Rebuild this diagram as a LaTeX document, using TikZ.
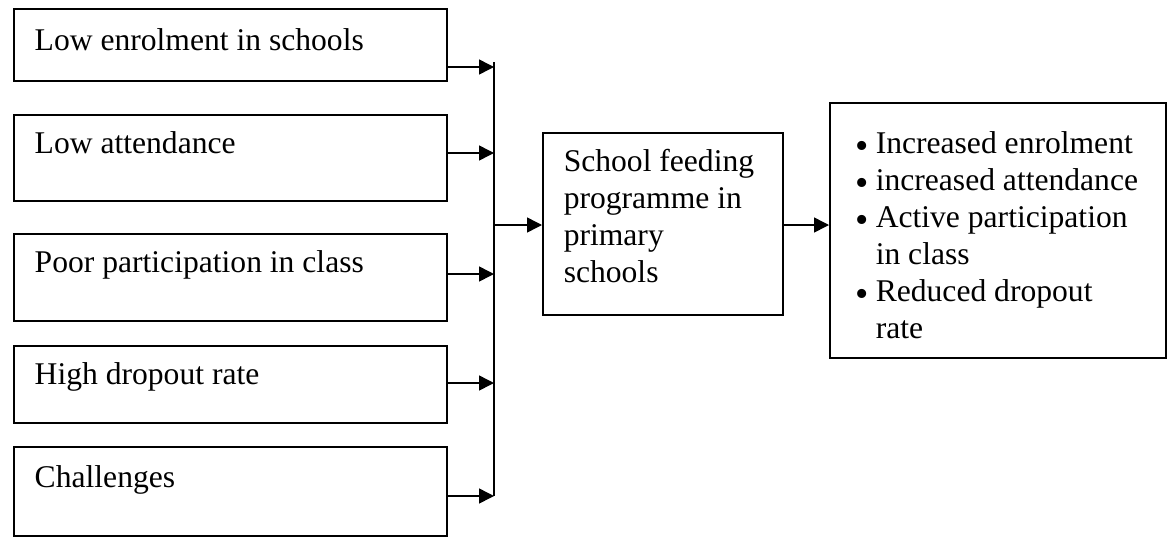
\documentclass[tikz,border=0pt]{standalone}
\usepackage{fontspec}
\setmainfont{Liberation Serif}
\usetikzlibrary{arrows.meta}
\newcommand{\bitem}{\par\leavevmode\llap{\makebox[10pt][l]{\raisebox{-2.5pt}{\scalebox{1.2}{\textbullet}}}}}
\newcommand{\boxtext}[3]{\hspace*{#1}\parbox[t]{#2}{\raggedright #3}}
\tikzset{
  box/.style={draw, line width=0.75pt, rectangle, anchor=north west, inner sep=0pt,
    font=\fontsize{15.8}{18.5}\selectfont},
  arr/.style={line width=0.75pt, -{Triangle[length=7.5pt,width=7.5pt]}},
  bus/.style={line width=0.75pt},
}
\begin{document}
\begin{tikzpicture}[x=0.5pt,y=-0.5pt]
\useasboundingbox (0,0) rectangle (1171,536);
% left boxes
\node[box, text height=21pt, text depth=15pt] (b1) at (13,8) {\boxtext{10.5pt}{206pt}{Low enrolment in schools}};
\node[box, text height=19.5pt, text depth=23.5pt] (b2) at (13,114) {\boxtext{10.5pt}{206pt}{Low attendance}};
\node[box, text height=19.5pt, text depth=24pt] (b3) at (13,233) {\boxtext{10.5pt}{206pt}{Poor participation in class}};
\node[box, text height=19.5pt, text depth=19pt] (b4) at (13,345) {\boxtext{10.5pt}{206pt}{High dropout rate}};
\node[box, text height=20.5pt, text depth=24pt] (b5) at (13,446) {\boxtext{10.5pt}{206pt}{Challenges}};
% centre box
\node[box, text height=19.5pt, text depth=71.5pt] (c) at (542,132)
  {\boxtext{10.5pt}{109.5pt}{School feeding\\programme in\\primary\\schools}};
% right box
\node[box, text height=25.5pt, text depth=102pt] (r) at (829,102)
  {\boxtext{13pt}{155pt}{\leftskip=10pt\relax
   \bitem Increased enrolment
   \bitem increased attendance
   \bitem Active participation\\in class
   \bitem Reduced dropout\\rate}};
% bus
\coordinate (jtop) at (494,62);
\coordinate (jbot) at (494,496);
\coordinate (j1) at (494,67);
\coordinate (j2) at (494,153);
\coordinate (j3) at (494,274);
\coordinate (j4) at (494,383);
\coordinate (j5) at (494,496);
\coordinate (jm) at (494,225);
\draw[bus] (jtop) -- (jbot);
\draw[arr] (b1.east |- j1) -- (j1);
\draw[arr] (b2.east |- j2) -- (j2);
\draw[arr] (b3.east |- j3) -- (j3);
\draw[arr] (b4.east |- j4) -- (j4);
\draw[arr] (b5.east |- j5) -- (j5);
\draw[arr] (jm) -- (c.west |- jm);
\draw[arr] (c.east |- jm) -- (r.west |- jm);
\end{tikzpicture}
\end{document}
